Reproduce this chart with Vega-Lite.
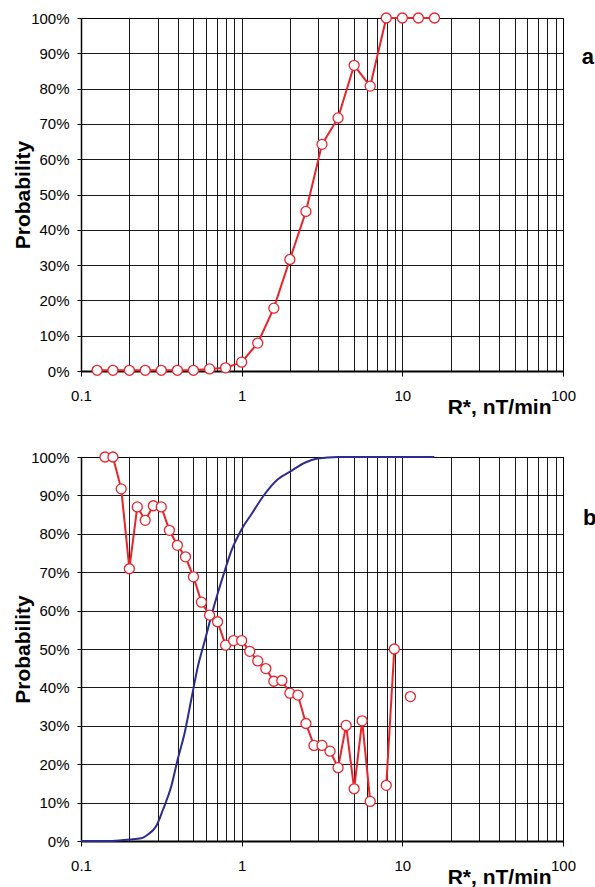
{
  "$schema": "https://vega.github.io/schema/vega-lite/v6.json",
  "background": "white",
  "padding": {"left": 12, "top": 9, "right": 0, "bottom": 0},
  "spacing": 30,
  "config": {
    "font": "Liberation Sans",
    "view": {"stroke": "#000", "strokeWidth": 1},
    "axis": {
      "labelFont": "Liberation Sans", "labelFontSize": 15, "labelColor": "#000",
      "titleFont": "Liberation Sans", "titleFontSize": 21, "titleFontWeight": "bold", "titleColor": "#000",
      "gridColor": "#000", "gridWidth": 1, "gridOpacity": 0.9,
      "domainColor": "#000", "tickColor": "#000"
    }
  },
  "datasets": {
    "a": [
      {"x": 0.126, "p": 0.002}, {"x": 0.158, "p": 0.002}, {"x": 0.2, "p": 0.002}, {"x": 0.251, "p": 0.002},
      {"x": 0.316, "p": 0.002}, {"x": 0.398, "p": 0.002}, {"x": 0.501, "p": 0.002}, {"x": 0.631, "p": 0.006},
      {"x": 0.794, "p": 0.009}, {"x": 1.0, "p": 0.025}, {"x": 1.259, "p": 0.079}, {"x": 1.585, "p": 0.178},
      {"x": 1.995, "p": 0.316}, {"x": 2.512, "p": 0.452}, {"x": 3.162, "p": 0.642}, {"x": 3.981, "p": 0.717},
      {"x": 5.012, "p": 0.866}, {"x": 6.31, "p": 0.807}, {"x": 7.943, "p": 1.0}, {"x": 10.0, "p": 1.0},
      {"x": 12.59, "p": 1.0}, {"x": 15.85, "p": 1.0}
    ],
    "bred": [
      {"x": 0.141, "p": 1.0, "seg": 1}, {"x": 0.158, "p": 1.0, "seg": 1}, {"x": 0.178, "p": 0.917, "seg": 1},
      {"x": 0.2, "p": 0.709, "seg": 1}, {"x": 0.224, "p": 0.87, "seg": 1}, {"x": 0.251, "p": 0.835, "seg": 1},
      {"x": 0.282, "p": 0.873, "seg": 1}, {"x": 0.316, "p": 0.87, "seg": 1}, {"x": 0.355, "p": 0.809, "seg": 1},
      {"x": 0.398, "p": 0.77, "seg": 1}, {"x": 0.447, "p": 0.74, "seg": 1}, {"x": 0.501, "p": 0.688, "seg": 1},
      {"x": 0.562, "p": 0.622, "seg": 1}, {"x": 0.631, "p": 0.588, "seg": 1}, {"x": 0.708, "p": 0.571, "seg": 1},
      {"x": 0.794, "p": 0.51, "seg": 1}, {"x": 0.891, "p": 0.522, "seg": 1}, {"x": 1.0, "p": 0.522, "seg": 1},
      {"x": 1.122, "p": 0.494, "seg": 1}, {"x": 1.259, "p": 0.469, "seg": 1}, {"x": 1.413, "p": 0.449, "seg": 1},
      {"x": 1.585, "p": 0.416, "seg": 1}, {"x": 1.778, "p": 0.418, "seg": 1}, {"x": 1.995, "p": 0.385, "seg": 1},
      {"x": 2.239, "p": 0.38, "seg": 1}, {"x": 2.512, "p": 0.306, "seg": 1}, {"x": 2.818, "p": 0.249, "seg": 1},
      {"x": 3.162, "p": 0.249, "seg": 1}, {"x": 3.548, "p": 0.234, "seg": 1}, {"x": 3.981, "p": 0.191, "seg": 1},
      {"x": 4.467, "p": 0.301, "seg": 1}, {"x": 5.012, "p": 0.136, "seg": 1}, {"x": 5.623, "p": 0.313, "seg": 1},
      {"x": 6.31, "p": 0.103, "seg": 1},
      {"x": 7.943, "p": 0.145, "seg": 2}, {"x": 8.913, "p": 0.5, "seg": 2},
      {"x": 11.22, "p": 0.376, "seg": 3}
    ],
    "bblue": [
      {"x": 0.1, "p": 0.0}, {"x": 0.15, "p": 0.0}, {"x": 0.2, "p": 0.004}, {"x": 0.237, "p": 0.007},
      {"x": 0.261, "p": 0.017}, {"x": 0.294, "p": 0.039}, {"x": 0.324, "p": 0.082}, {"x": 0.365, "p": 0.143},
      {"x": 0.4, "p": 0.213}, {"x": 0.442, "p": 0.282}, {"x": 0.486, "p": 0.369}, {"x": 0.535, "p": 0.456},
      {"x": 0.589, "p": 0.521}, {"x": 0.647, "p": 0.586}, {"x": 0.712, "p": 0.647}, {"x": 0.784, "p": 0.703},
      {"x": 0.861, "p": 0.755}, {"x": 1.0, "p": 0.812}, {"x": 1.15, "p": 0.851}, {"x": 1.39, "p": 0.903},
      {"x": 1.68, "p": 0.942}, {"x": 2.04, "p": 0.964}, {"x": 2.47, "p": 0.985}, {"x": 2.97, "p": 0.996},
      {"x": 3.97, "p": 1.0}, {"x": 15.8, "p": 1.0}
    ]
  },
  "vconcat": [
    {
      "width": 482, "height": 353,
      "title": {"text": "a", "orient": "right", "anchor": "start", "frame": "group", "angle": 0, "align": "left", "baseline": "alphabetic", "offset": -6, "dy": 46, "fontSize": 22, "fontWeight": "bold", "font": "Liberation Sans", "color": "#000"},
      "data": {"name": "a"},
      "encoding": {
        "x": {"field": "x", "type": "quantitative", "scale": {"type": "log", "domain": [0.1, 100], "nice": false},
          "axis": {"values": [0.1,0.2,0.3,0.4,0.5,0.6,0.7,0.8,0.9,1,2,3,4,5,6,7,8,9,10,20,30,40,50,60,70,80,90,100],
            "labelExpr": "datum.value === 0.1 ? '0.1' : datum.value === 1 ? '1' : datum.value === 10 ? '10' : datum.value === 100 ? '100' : ''",
            "labelFlush": false, "labelOverlap": false, "labelPadding": 12, "tickSize": 5,
            "tickOpacity": {"condition": {"test": "datum.value === 0.1 || datum.value === 1 || datum.value === 10 || datum.value === 100", "value": 1}, "value": 0},
            "domainWidth": 2.2, "title": "R*, nT/min", "titleX": 470, "titleY": 42, "titleAlign": "right", "titleBaseline": "alphabetic", "grid": true}},
        "y": {"field": "p", "type": "quantitative", "scale": {"domain": [0, 1], "nice": false},
          "axis": {"values": [0,0.1,0.2,0.3,0.4,0.5,0.6,0.7,0.8,0.9,1], "format": ".0%", "labelFlush": false, "labelPadding": 8, "tickSize": 4, "domainWidth": 1.5, "title": "Probability", "titlePadding": -3, "grid": true}}
      },
      "layer": [
        {"mark": {"type": "line", "color": "#e8232a", "strokeWidth": 2}},
        {"mark": {"type": "point", "shape": "circle", "filled": true, "fill": "white", "stroke": "#e8232a", "strokeWidth": 1.3, "size": 100, "opacity": 1}}
      ]
    },
    {
      "width": 482, "height": 384,
      "title": {"text": "b", "orient": "right", "anchor": "start", "frame": "group", "angle": 0, "align": "left", "baseline": "alphabetic", "offset": -6, "dy": 68, "fontSize": 22, "fontWeight": "bold", "font": "Liberation Sans", "color": "#000"},
      "encoding": {
        "x": {"field": "x", "type": "quantitative", "scale": {"type": "log", "domain": [0.1, 100], "nice": false},
          "axis": {"values": [0.1,0.2,0.3,0.4,0.5,0.6,0.7,0.8,0.9,1,2,3,4,5,6,7,8,9,10,20,30,40,50,60,70,80,90,100],
            "labelExpr": "datum.value === 0.1 ? '0.1' : datum.value === 1 ? '1' : datum.value === 10 ? '10' : datum.value === 100 ? '100' : ''",
            "labelFlush": false, "labelOverlap": false, "labelPadding": 12, "tickSize": 5,
            "tickOpacity": {"condition": {"test": "datum.value === 0.1 || datum.value === 1 || datum.value === 10 || datum.value === 100", "value": 1}, "value": 0},
            "domainWidth": 2.2, "title": "R*, nT/min", "titleX": 470, "titleY": 42, "titleAlign": "right", "titleBaseline": "alphabetic", "grid": true}},
        "y": {"field": "p", "type": "quantitative", "scale": {"domain": [0, 1], "nice": false},
          "axis": {"values": [0,0.1,0.2,0.3,0.4,0.5,0.6,0.7,0.8,0.9,1], "format": ".0%", "labelFlush": false, "labelPadding": 8, "tickSize": 4, "domainWidth": 1.5, "title": "Probability", "titlePadding": -3, "grid": true}}
      },
      "layer": [
        {"data": {"name": "bblue"}, "mark": {"type": "line", "color": "#2b2c8c", "strokeWidth": 2, "interpolate": "monotone"}},
        {"data": {"name": "bred"}, "mark": {"type": "line", "color": "#e8232a", "strokeWidth": 2}, "encoding": {"detail": {"field": "seg", "type": "nominal"}}},
        {"data": {"name": "bred"}, "mark": {"type": "point", "shape": "circle", "filled": true, "fill": "white", "stroke": "#e8232a", "strokeWidth": 1.3, "size": 100, "opacity": 1}}
      ]
    }
  ]
}
